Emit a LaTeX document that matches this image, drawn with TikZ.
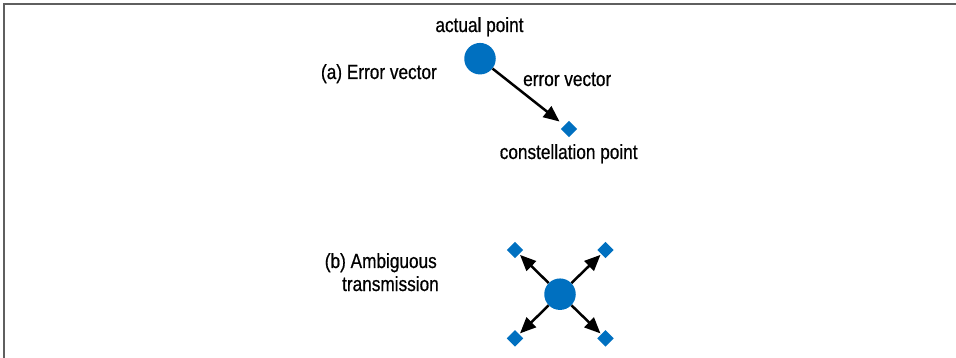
\documentclass[tikz,border=0pt]{standalone}
\usepackage{fontspec}
\setmainfont{Liberation Sans}[FakeStretch=0.84,FakeBold=0.6]
\usetikzlibrary{arrows.meta,shapes.geometric}
\definecolor{ptblue}{RGB}{0,112,192}
\definecolor{framegray}{RGB}{95,95,95}
\tikzset{
  lbl/.style={inner sep=0pt,font=\fontsize{20.5}{24}\selectfont},
  bigdot/.style={circle,fill=ptblue,minimum size=31.5pt,inner sep=0pt},
  cpoint/.style={diamond,aspect=1,fill=ptblue,minimum size=16.6pt,inner sep=0pt},
  arr/.style={draw=black,line width=2.5pt,-{Triangle[length=16pt,width=13.5pt]}},
  frameline/.style={draw=framegray,line width=1.8pt}
}
\begin{document}
\begin{tikzpicture}[x=1pt,y=-1pt]
\useasboundingbox (0,0) rectangle (956,358);
% frame (top and left edges)
\coordinate (fTR) at (956,3.8);
\coordinate (fTL) at (3.8,3.8);
\coordinate (fBL) at (3.8,358);
\draw[frameline] (fTR) -- (fTL) -- (fBL);
% (a) error vector
\node[bigdot] (ca) at (480,58.7) {};
\node[cpoint] (da) at (569,129) {};
\draw[arr,shorten >=6pt] (ca) -- (da);
\node[lbl,anchor=base] (tact) at (479.5,32) {actual point};
\node[lbl,anchor=base west] (terr) at (523,86) {error vector};
\node[lbl,anchor=base] (tcon) at (568.7,159) {constellation point};
\node[lbl,anchor=base east] (ta) at (437,79) {(a) Error vector};
% (b) ambiguous transmission
\node[bigdot] (cb) at (560,294.2) {};
\node[cpoint] (dtl) at (515,250) {};
\node[cpoint] (dtr) at (605.5,250) {};
\node[cpoint] (dbl) at (515,338.3) {};
\node[cpoint] (dbr) at (605.5,338.3) {};
\draw[arr,shorten >=1pt] (cb) -- (dtl);
\draw[arr,shorten >=1pt] (cb) -- (dtr);
\draw[arr,shorten >=1pt] (cb) -- (dbl);
\draw[arr,shorten >=1pt] (cb) -- (dbr);
\node[lbl,anchor=base east] (tb1) at (437,268) {(b) Ambiguous};
\node[lbl,anchor=base east] (tb2) at (439,291) {transmission};
\end{tikzpicture}
\end{document}
